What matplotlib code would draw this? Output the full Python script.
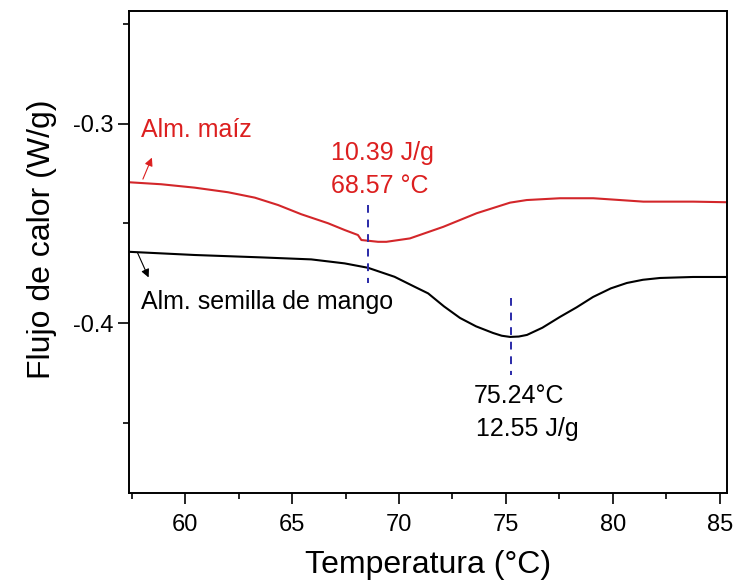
"""
DSC thermograms of corn and mango seed starch.
"""

import matplotlib

matplotlib.use("Agg")

import matplotlib.pyplot as plt
from matplotlib.ticker import MultipleLocator

plt.rcParams["font.family"] = ["Liberation Sans", "DejaVu Sans"]
plt.rcParams["axes.unicode_minus"] = False

# Alm. maiz (red curve)
maiz_temp = [57.38, 58.89, 60.45, 62.01, 63.26, 64.35, 65.43, 66.68, 67.46,
             68.08, 68.24, 69.02, 69.41, 70.51, 72.07, 73.63, 75.19, 75.97,
             77.52, 79.08, 80.33, 81.42, 83.75, 85.33]
maiz_flow = [-0.3294, -0.3304, -0.3321, -0.3344, -0.3371, -0.3408, -0.3454,
             -0.3499, -0.3533, -0.3558, -0.3583, -0.3592, -0.3592, -0.3575,
             -0.3517, -0.3449, -0.3396, -0.3383, -0.3374, -0.3374, -0.3383,
             -0.3391, -0.3391, -0.3394]

# Alm. semilla de mango (black curve)
mango_temp = [57.38, 60.45, 63.57, 65.90, 67.46, 68.55, 69.79, 70.73, 71.36,
              72.10, 72.85, 73.60, 74.39, 74.80, 75.19, 75.60, 75.98, 76.70,
              77.52, 78.30, 79.07, 79.90, 80.65, 81.40, 82.20, 83.74, 85.33]
mango_flow = [-0.3642, -0.3658, -0.3670, -0.3680, -0.3700, -0.3722, -0.3767,
              -0.3817, -0.3850, -0.3915, -0.3973, -0.4015, -0.4048, -0.4062,
              -0.4068, -0.4066, -0.4058, -0.4022, -0.3968, -0.3920, -0.3868,
              -0.3825, -0.3798, -0.3782, -0.3773, -0.3768, -0.3768]

peak_temps = [68.57, 75.24]
peak_spans = [(-0.3408, -0.3798), (-0.3873, -0.4258)]

RED = "#d3262a"
TEXT_RED = "#dc1f1f"
BLUE = "#2a2aa8"


def main() -> None:
    fig = plt.figure(figsize=(7.34, 5.82), dpi=100)
    ax = fig.add_axes([129 / 734, 1 - 493 / 582, (727 - 129) / 734, (493 - 11) / 582])

    ax.plot(maiz_temp, maiz_flow, color=RED, linewidth=1.5,
            solid_joinstyle="round")
    ax.plot(mango_temp, mango_flow, color="black", linewidth=1.5,
            solid_joinstyle="round")

    for temp, (y_top, y_bottom) in zip(peak_temps, peak_spans):
        ax.plot([temp, temp], [y_top, y_bottom], color=BLUE, linewidth=1.4,
                linestyle=(0, (4, 3.5)))

    ax.set_xlim(57.38, 85.33)
    ax.set_ylim(-0.4849, -0.2437)
    ax.xaxis.set_major_locator(MultipleLocator(5))
    ax.xaxis.set_minor_locator(MultipleLocator(2.5))
    ax.yaxis.set_minor_locator(MultipleLocator(0.05))
    ax.set_yticks([-0.3, -0.4])
    ax.tick_params(which="major", direction="out", length=8, width=1.2,
                   labelsize=17)
    ax.tick_params(axis="x", which="major", pad=7)
    ax.tick_params(axis="y", which="major", pad=3)
    ax.tick_params(which="minor", direction="out", length=4, width=1.2)
    for spine in ax.spines.values():
        spine.set_linewidth(1.4)

    ax.set_xlabel("Temperatura (°C)", fontsize=23, labelpad=10)
    ax.set_ylabel("Flujo de calor (W/g)", fontsize=23)
    ax.yaxis.set_label_coords(-0.12, 0.527)

    ax.text(57.94, -0.3066, "Alm. maíz", color=TEXT_RED, fontsize=18,
            ha="left", va="baseline")
    ax.annotate("", xy=(58.50, -0.3158), xytext=(57.98, -0.3291),
                arrowprops=dict(arrowstyle="-|>", color=TEXT_RED, lw=0.8,
                                mutation_scale=12))
    ax.text(66.82, -0.3183, "10.39 J/g", color=TEXT_RED, fontsize=18,
            ha="left", va="baseline")
    ax.text(66.82, -0.3346, "68.57 °C", color=TEXT_RED, fontsize=18,
            ha="left", va="baseline")

    ax.text(57.96, -0.3928, "Alm. semilla de mango", color="black",
            fontsize=18, ha="left", va="baseline")
    ax.annotate("", xy=(58.35, -0.3783), xytext=(57.72, -0.3633),
                arrowprops=dict(arrowstyle="-|>", color="black", lw=0.8,
                                mutation_scale=12))
    ax.text(73.50, -0.4400, "75.24°C", color="black", fontsize=18,
            ha="left", va="baseline")
    ax.text(73.60, -0.4563, "12.55 J/g", color="black", fontsize=18,
            ha="left", va="baseline")

    fig.savefig("out.png", dpi=100)
    plt.close(fig)


if __name__ == "__main__":
    main()
